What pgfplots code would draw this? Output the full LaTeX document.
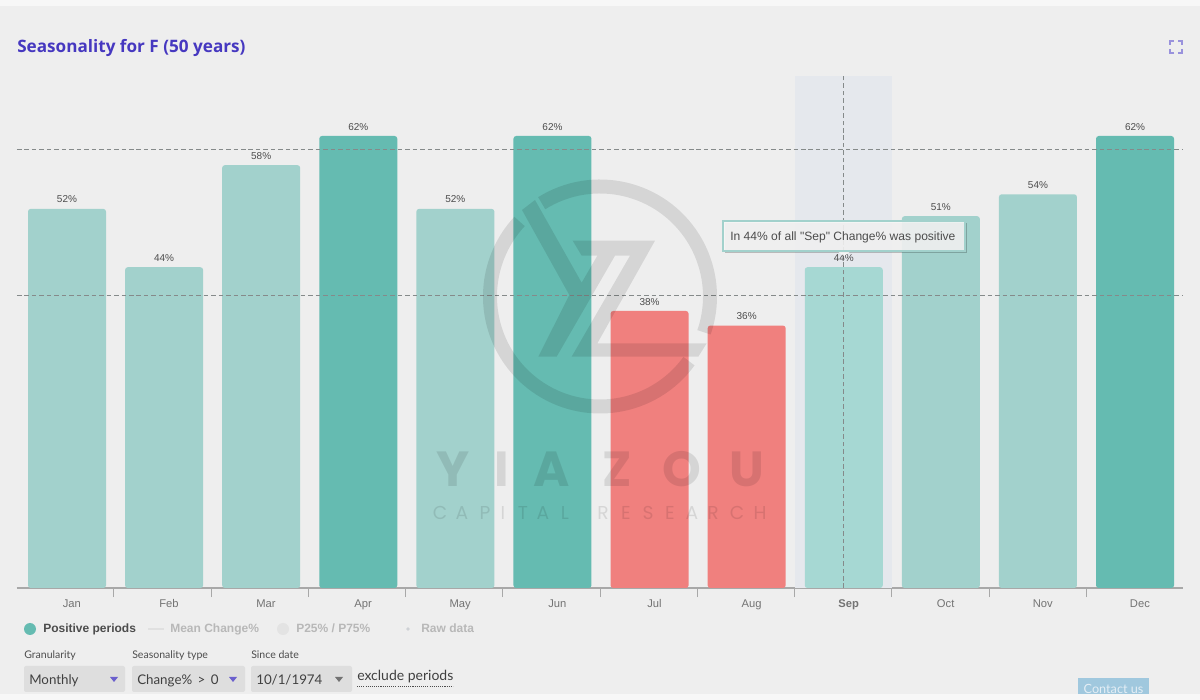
\documentclass[border=0pt]{standalone}
\usepackage{fontspec}
\setmainfont{Liberation Sans}
\newfontfamily\tipfont{Liberation Sans}
\newfontfamily\uifont{Lato}
\newfontfamily\markfont{Poppins}
\newfontfamily\titlefont{Open Sans}
\usepackage{pgfplots}
\pgfplotsset{compat=1.18}

\definecolor{pagebg}{HTML}{EEEEEE}
\definecolor{edgebg}{HTML}{F7F7F7}
\definecolor{lightteal}{HTML}{A2D1CC}
\definecolor{selteal}{HTML}{A6D8D3}
\definecolor{darkteal}{HTML}{65BBB1}
\definecolor{downred}{HTML}{F0807E}
\definecolor{bandgrey}{HTML}{E5E8ED}
\definecolor{dashgrey}{HTML}{858A8A}
\definecolor{axisgrey}{HTML}{A8A8A8}
\definecolor{titleblue}{HTML}{4638C0}
\definecolor{boxgrey}{HTML}{DEDEDE}
\definecolor{contactblue}{HTML}{A0C8DE}
\definecolor{contacttext}{HTML}{E4EEF5}

\begin{document}
\begin{tikzpicture}
\path[use as bounding box] (0,0) rectangle (900pt,525pt);
\fill[pagebg] (0,0) rectangle (900pt,525pt);

\begin{axis}[
    at={(12.75pt,84pt)},
    anchor=south west,
    scale only axis,
    width=874.5pt,
    height=384pt,
    xmin=-0.515, xmax=11.494,
    ymin=0, ymax=70.23,
    axis x line*=bottom,
    axis y line=none,
    axis line style={draw=axisgrey,line width=1pt,-},
    xtick={0.05,1.05,2.05,3.05,4.05,5.05,6.05,7.05,8.05,9.05,10.05,11.05},
    xticklabels={Jan,Feb,Mar,Apr,May,Jun,Jul,Aug,\textbf{Sep},Oct,Nov,Dec},
    major tick length=0pt,
    xticklabel style={font=\fontsize{8.4pt}{10pt}\selectfont,text=black!55,text height=6.2pt,text depth=1.8pt,yshift=-5.1pt},
    extra x ticks={0.478,1.484,2.484,3.486,4.488,5.49,6.492,7.494,8.496,9.498,10.5},
    extra x tick labels={},
    extra x tick style={major tick length=6.75pt,tick style={draw=axisgrey,line width=.8pt},tickwidth=6.75pt},
    tick align=outside,
    ybar,
    bar shift=0pt,
    /pgf/number format/assume math mode=true,
    nodes near coords style={font=\fontsize{7.5pt}{9pt}\selectfont,text=black!70,inner sep=4.4pt},
    every axis plot/.append style={line width=0pt},
  ]
  % hover band behind September
  \addplot[fill=bandgrey,draw=none,bar width=72.75pt] coordinates {(8,70.23)};
  % months below 50% in light teal
  \addplot[fill=lightteal,draw=none,bar width=58.5pt,rounded corners=2pt,
    nodes near coords={\pgfmathprintnumber{\pgfplotspointmeta}\%}] coordinates {
    (0,52) (1,44) (2,58) (4,52) (9,51) (10,54)
  };
  \addplot[fill=darkteal,draw=none,bar width=58.5pt,rounded corners=2pt,
    nodes near coords={\pgfmathprintnumber{\pgfplotspointmeta}\%}] coordinates {
    (3,62) (5,62) (11,62)
  };
  \addplot[fill=downred,draw=none,bar width=58.5pt,rounded corners=2pt,
    nodes near coords={\pgfmathprintnumber{\pgfplotspointmeta}\%}] coordinates {
    (6,38) (7,36)
  };
  \addplot[fill=selteal,draw=none,bar width=58.5pt,rounded corners=2pt,
    nodes near coords={\pgfmathprintnumber{\pgfplotspointmeta}\%}] coordinates {
    (8,44)
  };
  % reference lines and crosshair
  \addplot[sharp plot,dashgrey,line width=.7pt,dash pattern=on 3.4pt off 2.2pt] coordinates {(-0.515,60.15) (11.494,60.15)};
  \addplot[sharp plot,dashgrey,line width=.7pt,dash pattern=on 3.4pt off 2.2pt] coordinates {(-0.515,40.1) (11.494,40.1)};
  \addplot[sharp plot,dashgrey,line width=.7pt,dash pattern=on 3.4pt off 2.2pt] coordinates {(7.995,0) (7.995,70.23)};
\end{axis}

\begin{scope}[shift={(0,525pt)},x=0.75pt,y=-0.75pt]
  % watermark
  \begin{scope}[black,opacity=.1]
    \draw[line width=10.5pt] (600,296.5)+(-122:110) arc[start angle=-122,end angle=19,radius=110];
    \draw[line width=10.5pt] (600,296.5)+(36:110) arc[start angle=36,end angle=223,radius=110];
    \begin{scope}[shift={(450,170)},x=0.25pt,y=-0.25pt]
      \fill (216,120) -- (255,90) -- (395,338) -- (442,257) -- (495,257) -- (320,560) -- (265,560) -- (358,375) -- cycle;
      \fill (368,212) -- (615,212) -- (442,520) -- (770,520) -- (745,560) -- (365,560) -- (540,257) -- (395,257) -- cycle;
    \end{scope}
    \foreach \c/\x in {Y/453,I/502,A/552,Z/617,O/682,U/747}
      \node[font=\markfont\bfseries\fontsize{37pt}{40pt}\selectfont,inner sep=0,anchor=base] at (\x,487) {\c};
    \foreach \c/\x in {C/440,A/462,P/485,I/503,T/523,A/543,L/565,R/603,E/626,S/648,E/670,A/692,R/713,C/737,H/760}
      \node[font=\markfont\fontsize{14pt}{15pt}\selectfont,inner sep=0,anchor=base] at (\x,520) {\c};
  \end{scope}

  % tooltip
  \fill[black,opacity=.22] (725,223) rectangle (967,253);
  \fill[edgebg,opacity=.88] (723,221) rectangle (965,251);
  \fill[edgebg,opacity=.88] (837,251) -- (851,251) -- (844,256) -- cycle;
  \draw[lightteal,line width=.9pt] (723,221) rectangle (965,251);
  \node[anchor=base west,inner sep=0,font=\tipfont\fontsize{9.05pt}{10pt}\selectfont,text=black!70] at (730,241) {In 44\% of all "Sep" Change\% was positive};

  % title
  \node[anchor=base west,inner sep=0,font=\titlefont\bfseries\fontsize{12.85pt}{14pt}\selectfont,text=titleblue] at (17,53) {Seasonality for F (50 years)};

  % fullscreen icon
  \draw[titleblue!55,line width=1pt] (1170,45) -- (1170,41) -- (1174,41) (1178,41) -- (1182,41) -- (1182,45) (1182,49) -- (1182,53) -- (1178,53) (1174,53) -- (1170,53) -- (1170,49);

  % legend
  \fill[darkteal] (30,629) circle[radius=6];
  \node[anchor=base west,inner sep=0,font=\bfseries\fontsize{9pt}{10pt}\selectfont,text=black!70] at (43,633) {Positive periods};
  \draw[black!12,line width=1pt] (148,629) -- (164,629);
  \node[anchor=base west,inner sep=0,font=\bfseries\fontsize{9pt}{10pt}\selectfont,text=black!28] at (170,633) {Mean Change\%};
  \fill[black!11] (283,629) circle[radius=6];
  \node[anchor=base west,inner sep=0,font=\bfseries\fontsize{9pt}{10pt}\selectfont,text=black!28] at (296,633) {P25\% / P75\%};
  \fill[bandgrey!90!black] (408,629) circle[radius=1.8];
  \node[anchor=base west,inner sep=0,font=\bfseries\fontsize{9pt}{10pt}\selectfont,text=black!28] at (421,633) {Raw data};

  % controls
  \foreach \t/\x in {Granularity/24,Seasonality type/132,Since date/251}
    \node[anchor=base west,inner sep=0,font=\uifont\fontsize{7.9pt}{10pt}\selectfont,text=black!70] at (\x,659) {\t};
  \fill[boxgrey,rounded corners=1.5pt] (24,666) rectangle (125,692);
  \fill[boxgrey,rounded corners=1.5pt] (132,666) rectangle (245,692);
  \fill[boxgrey,rounded corners=1.5pt] (251,666) rectangle (352,692);
  \node[anchor=base west,inner sep=0,font=\uifont\fontsize{10pt}{12pt}\selectfont,text=black!75] at (29,684) {Monthly};
  \node[anchor=base west,inner sep=0,font=\uifont\fontsize{10pt}{12pt}\selectfont,text=black!75] at (137,684) {Change\%\hspace{1.5pt} > \hspace{1.5pt}0};
  \node[anchor=base west,inner sep=0,font=\uifont\fontsize{10pt}{12pt}\selectfont,text=black!75] at (256,684) {10/1/1974};
  \fill[titleblue!80] (110,677) -- (118,677) -- (114,682) -- cycle;
  \fill[titleblue!80] (229,677) -- (237,677) -- (233,682) -- cycle;
  \fill[black!55] (335,677) -- (343,677) -- (339,682) -- cycle;
  \node[anchor=base west,inner sep=0,font=\uifont\fontsize{10.5pt}{12pt}\selectfont,text=black!75] at (357,681) {exclude periods};
  \draw[black!70,line width=.5pt,dash pattern=on .8pt off .8pt] (357,686.5) -- (453,686.5);

  % contact button, cut off by the bottom strip
  \fill[contactblue] (1078,678) rectangle (1149,694);
  \node[anchor=base,inner sep=0,font=\uifont\fontsize{9.5pt}{11pt}\selectfont,text=contacttext] at (1113.5,693) {Contact us};

  % lighter strips at top and bottom of the page
  \fill[edgebg] (0,0) rectangle (1200,6);
  \fill[edgebg] (0,694) rectangle (1200,700);
\end{scope}
\end{tikzpicture}
\end{document}
